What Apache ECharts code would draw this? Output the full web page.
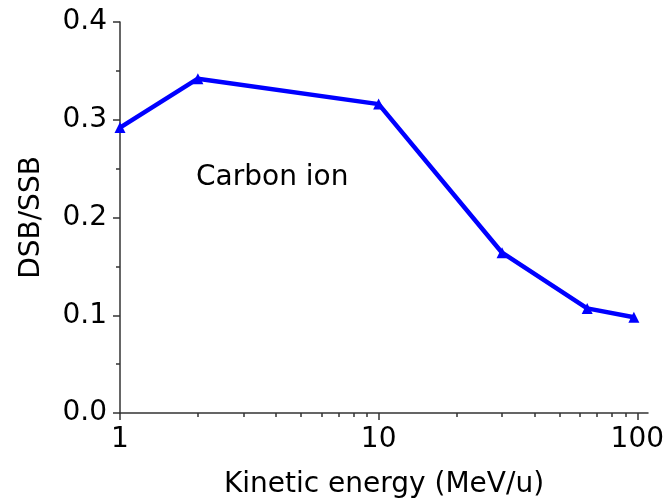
<!DOCTYPE html>
<html>
<head>
<meta charset="utf-8">
<script src="https://cdn.jsdelivr.net/npm/echarts@6/dist/echarts.min.js"></script>
<style>html,body{margin:0;padding:0;background:#fff;}#c{width:666px;height:501px;}</style>
</head>
<body>
<div id="c"></div>
<script>
const energy = [1, 2, 10, 30, 64, 97];
const ratio = [0.292, 0.342, 0.316, 0.164, 0.107, 0.098];
const xMajorTicks = [1, 10, 100];
const xMinorTicks = [2, 3, 4, 5, 6, 7, 8, 9, 20, 30, 40, 50, 60, 70, 80, 90];
const yTicks = [0, 0.1, 0.2, 0.3, 0.4];

const FONT = 'DejaVu Sans';
const FS = 28;
const chart = echarts.init(document.getElementById('c'), null, {renderer: 'canvas'});
const axisCol = '#333';
chart.setOption({
  animation: false,
  backgroundColor: '#fff',
  grid: {left: 120, right: 18, top: 22, bottom: 88, containLabel: false, outerBoundsMode: 'none'},
  xAxis: [{
    type: 'log', logBase: 10, min: 1, max: 110,
    name: 'Kinetic energy (MeV/u)', nameLocation: 'middle', nameGap: 58,
    nameTextStyle: {fontFamily: FONT, fontSize: FS, color: '#000'},
    axisLine: {show: true, lineStyle: {color: axisCol, width: 1.5}},
    axisTick: {show: true, length: 4, customValues: xMinorTicks, lineStyle: {color: axisCol, width: 1.5}},
    axisLabel: {customValues: xMajorTicks, margin: 13, fontFamily: FONT, fontSize: FS, color: '#000'},
    splitLine: {show: false}
  }, {
    type: 'log', logBase: 10, min: 1, max: 110, position: 'bottom',
    axisLine: {show: false},
    axisTick: {show: true, length: 7, customValues: xMajorTicks, lineStyle: {color: axisCol, width: 1.5}},
    axisLabel: {show: false},
    splitLine: {show: false}
  }],
  yAxis: {
    type: 'value', min: 0, max: 0.4, interval: 0.1,
    name: 'DSB/SSB', nameLocation: 'middle', nameGap: 74,
    nameTextStyle: {fontFamily: FONT, fontSize: FS, color: '#000'},
    axisLine: {show: true, lineStyle: {color: axisCol, width: 1.5}},
    axisTick: {show: true, length: 7, lineStyle: {color: axisCol, width: 1.5}},
    minorTick: {show: true, splitNumber: 2, length: 4, lineStyle: {color: axisCol, width: 1.5}},
    axisLabel: {margin: 13, fontFamily: FONT, fontSize: FS, color: '#000',
      formatter: v => v.toFixed(1)},
    splitLine: {show: false}
  },
  graphic: [{
    type: 'text', left: 196, top: 164,
    style: {text: 'Carbon ion', fontFamily: FONT, fontSize: FS, fill: '#000'}
  }],
  series: [{
    type: 'line',
    data: energy.map((e, i) => [e, ratio[i]]),
    lineStyle: {color: '#0000ff', width: 4.5},
    itemStyle: {color: '#0000ff'},
    symbol: 'triangle', symbolSize: 11, showSymbol: true,
    clip: false
  }]
});
</script>
</body>
</html>
